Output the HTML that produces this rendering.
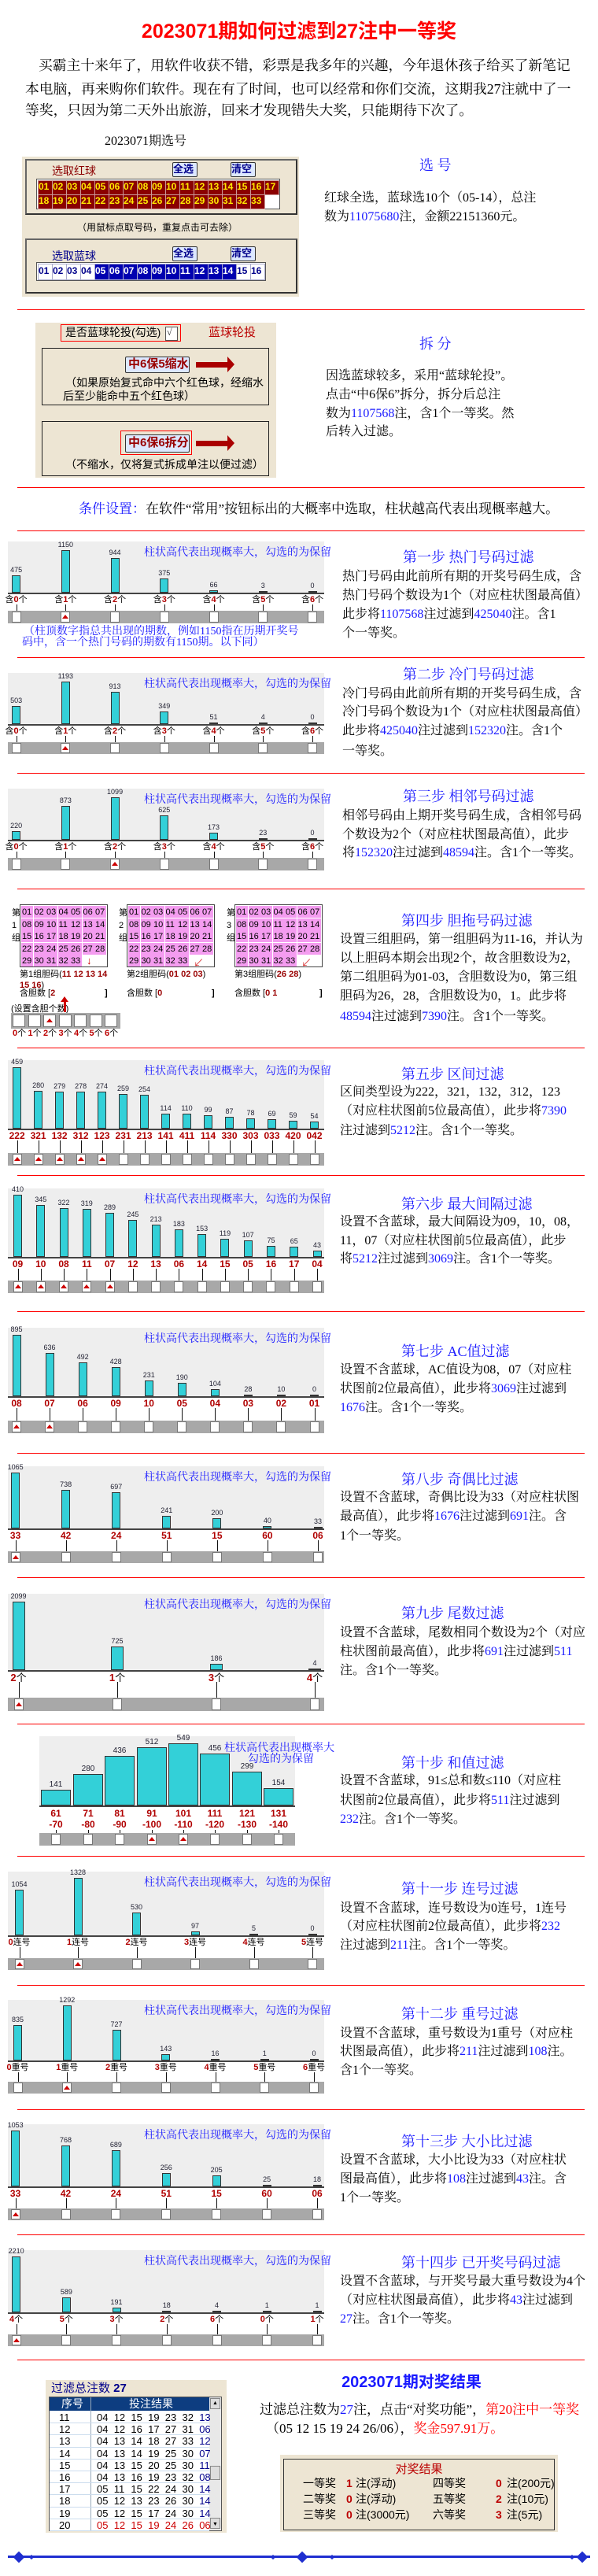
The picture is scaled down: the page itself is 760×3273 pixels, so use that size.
<!DOCTYPE html>
<html><head><meta charset="utf-8">
<style>
html,body{margin:0;padding:0;background:#fff}
body{width:760px;height:3273px;position:relative;overflow:hidden;font-family:"Liberation Serif","Noto Serif CJK SC",serif;color:#000}
.a{position:absolute;white-space:nowrap}
.b{color:#1a1aff}
.r{color:#ff0000}
.hr{position:absolute;left:22px;width:721px;height:1px;background:#ff0000}
.t{position:absolute;white-space:nowrap;font-size:16px;line-height:20px}
.st{position:absolute;white-space:nowrap;font-size:18px;line-height:22px;color:#1a1aff}
.sans{font-family:"Liberation Sans","Noto Sans CJK SC",sans-serif}
</style></head><body>
<div class="a sans" style="left:0;width:760px;text-align:center;top:24px;font-size:25px;line-height:32px;font-weight:bold;color:#ff0000">2023071期如何过滤到27注中一等奖</div>
<div class="a" style="left:49px;top:71px;font-size:17.8px;line-height:24px">买霸主十来年了，用软件收获不错，彩票是我多年的兴趣，今年退休孩子给买了新笔记</div>
<div class="a" style="left:32px;top:101px;font-size:17.8px;line-height:24px">本电脑，再来购你们软件。现在有了时间，也可以经常和你们交流，这期我27注就中了一</div>
<div class="a" style="left:32px;top:128px;font-size:17.8px;line-height:24px">等奖，只因为第二天外出旅游，回来才发现错失大奖，只能期待下次了。</div>
<div class="a" style="left:133px;top:170px;font-size:16px;line-height:20px">2023071期选号</div>
<div id="root"></div>
<script>
var H='';
function A(s){H+=s;}
function box(x,y,w,h,st){A('<div class="a" style="left:'+x+'px;top:'+y+'px;width:'+w+'px;height:'+h+'px;'+(st||'')+'"></div>');}
function txt(x,y,s,st){A('<div class="a" style="left:'+x+'px;top:'+y+'px;'+(st||'')+'">'+s+'</div>');}
function hr(y){A('<div class="hr" style="top:'+y+'px"></div>');}
function blue(s){return s.replace(/<(.*?)>/g,'<span class="b">$1</span>');}
function lines(x,ys,arr){for(var i=0;i<arr.length;i++)A('<div class="t" style="left:'+x+'px;top:'+(ys[i]-10)+'px">'+blue(arr[i])+'</div>');}
function title(x,y,s){A('<div class="st" style="left:'+x+'px;top:'+(y-11)+'px">'+s+'</div>');}
var SF='font-family:\'Liberation Sans\',\'Noto Sans CJK SC\',sans-serif;';
/* red ball panel */
box(28,199,352,178,'background:#ede5d3');
box(32,202,346,71,'border:2px solid #666;box-sizing:border-box;border-right-color:#333;border-bottom-color:#333');
txt(66,207,'选取红球','font-size:14px;color:#8b0000;'+SF);
function btn(x,y,s){box(x,y,30,17,'background:#dde8ff;border:1px solid #333;border-radius:2px');txt(x+1,y+1,s,'font-size:13px;line-height:15px;font-weight:bold;color:#00008b;'+SF);}
btn(219,206,'全选');btn(293,206,'清空');
box(46,227,310,39,'background:#fff;border:1px solid #555;box-sizing:border-box');
for(var i=1;i<=33;i++){var r=i<=17?0:1,c=i<=17?i-1:i-18;var x=48+c*18,y=229+r*18;
 box(x,y,17,17,'background:#8b0000;border:1px solid #c99');
 txt(x+1,y+1,(i<10?'0':'')+i,'font-size:12px;line-height:15px;font-weight:bold;color:#ffea00;'+SF);}
txt(98,280,'（用鼠标点取号码，重复点击可去除）','font-size:12px;'+SF);
box(32,303,346,70,'border:2px solid #666;box-sizing:border-box;border-right-color:#333;border-bottom-color:#333');
txt(66,315,'选取蓝球','font-size:14px;color:#00008b;'+SF);
btn(219,313,'全选');btn(293,313,'清空');
box(46,333,292,24,'background:#fff;border:1px solid #555;box-sizing:border-box');
for(var i=1;i<=16;i++){var x=48+(i-1)*18,y=335,sel=i>=5&&i<=14;
 box(x,y,17,19,'background:'+(sel?'#0000b0':'#fff')+';border:1px solid #aac');
 txt(x+1,y+2,(i<10?'0':'')+i,'font-size:12px;line-height:15px;font-weight:bold;color:'+(sel?'#fff':'#00008b')+';'+SF);}
title(533,210,'选&nbsp;号');
lines(412,[252,276],['红球全选，蓝球选10个（05-14），总注','数为<11075680>注，金额22151360元。']);
hr(393);
/* split panel */
box(45,410,306,197,'background:#ede5d3');
box(77,412,153,22,'border:1px solid #f00;box-sizing:border-box');
txt(83,414,'是否蓝球轮投(勾选)','font-size:14px;line-height:17px;'+SF);
box(210,415,14,16,'background:#fff;border:1px solid #555;font-size:11px');
txt(212,415,'√','font-size:12px;color:#333');
txt(265,414,'蓝球轮投','font-size:15px;line-height:17px;color:#b00;'+SF);
box(53,442,289,73,'border:1px solid #222;box-sizing:border-box');
box(159,453,80,19,'background:#dde8ff;border:1px solid #333;border-radius:2px');
txt(163,454,'中6保5缩水','font-size:15px;line-height:17px;font-weight:bold;color:#900;'+SF);
function arrow(x,y){box(x,y-3,40,7,'background:#a00');A('<div class="a" style="left:'+(x+40)+'px;top:'+(y-10)+'px;width:0;height:0;border-left:9px solid #a00;border-top:10px solid transparent;border-bottom:10px solid transparent"></div>');}
arrow(249,463);
txt(83,477,'（如果原始复式命中六个红色球，经缩水','font-size:14px;line-height:18px;'+SF);
txt(80,494,'后至少能命中五个红色球）','font-size:14px;line-height:18px;'+SF);
box(53,535,289,70,'border:1px solid #222;box-sizing:border-box');
box(153,547,91,31,'border:1px solid #f00;box-sizing:border-box');
box(159,552,80,21,'background:#dde8ff;border:1px solid #333;border-radius:2px');
txt(163,554,'中6保6拆分','font-size:15px;line-height:17px;font-weight:bold;color:#900;'+SF);
arrow(249,563);
txt(83,581,'（不缩水，仅将复式拆成单注以便过滤）','font-size:14px;line-height:18px;'+SF);
title(533,437,'拆&nbsp;分');
lines(414,[478,502,526,549],['因选蓝球较多，采用“蓝球轮投”。','点击“中6保6”拆分，拆分后总注','数为<1107568>注，含1个一等奖。然','后转入过滤。']);
hr(619);
A('<div class="a" style="left:100px;top:637px;font-size:17px;line-height:20px"><span class="b">条件设置：</span>在软件“常用”按钮标出的大概率中选取，柱状越高代表出现概率越大。</div>');
hr(674);
/* chart */
function chart(o){
 var x0=o.x0||10,x1=o.x1||412,w=x1-x0;
 box(x0,o.top,w,o.base-o.top,'background:#eeeeee');
 box(x0,o.base-1,w,2,'background:#444');
 var mx=Math.max.apply(null,o.v),bw=o.bw||11;
 for(var i=0;i<o.v.length;i++){var xc=o.xs[i],h=Math.round(o.v[i]/mx*o.mh);
  if(h<2)h=2;
  box(xc-bw/2,o.base-1-h,bw,h,'background:#33d0d8;border:1px solid #333;box-sizing:border-box');
  A('<div class="a" style="left:'+(xc-20)+'px;width:40px;text-align:center;top:'+(o.base-h-13)+'px;font-size:'+(o.vf||9)+'px;line-height:11px;color:#223;'+SF+'">'+o.v[i]+'</div>');
  var lb=o.l[i];
  if(o.allred) lb='<b style="color:#b00000">'+lb+'</b>'; else lb=lb.replace(/(\d+)/g,'<b style="color:#b00000">$1</b>');
  A('<div class="a" style="left:'+(xc-30)+'px;width:60px;text-align:center;top:'+(o.base+2)+'px;font-size:'+(o.lf||11)+'px;line-height:'+(o.lh||13)+'px;'+SF+'white-space:pre">'+lb+'</div>');
  box(xc,o.base+(o.stem||14),1,o.s0-o.base-(o.stem||14)+2,'background:#111');
 }
 box(x0,o.s0,w,o.s1-o.s0,'background:#a8a8a8');
 for(var i=0;i<o.v.length;i++){var xc=o.xs[i];
  box(xc-6,o.s0+1,12,o.s1-o.s0-2,'background:#fff;border:1px solid #777;box-sizing:border-box');
  if(o.sel.indexOf(i)>=0)A('<div class="a" style="left:'+(xc-4)+'px;top:'+(o.s0+(o.s1-o.s0)/2-3)+'px;width:0;height:0;border-bottom:5px solid #c00;border-left:4px solid transparent;border-right:4px solid transparent"></div>');
 }
 if(!o.noleg)txt(183,o.top+7,'柱状高代表出现概率大，勾选的为保留','font-size:14px;line-height:16px;color:#1a1aff;');
}
function sp(a,b,n){var r=[];for(var i=0;i<n;i++)r.push(a+(b-a)*i/(n-1));return r;}
var L7=['含0个','含1个','含2个','含3个','含4个','含5个','含6个'];
chart({top:688,base:754,s0:776,s1:792,xs:sp(20.6,397,7),v:[475,1150,944,375,66,3,0],mh:54,l:L7,sel:[1]});
A('<div class="a b" style="left:30px;top:796px;font-size:14px;line-height:14px">（柱顶数字指总共出现的期数，例如1150指在历期开奖号</div>');
A('<div class="a b" style="left:28px;top:810px;font-size:14px;line-height:14px">码中，含一个热门号码的期数有1150期。以下同）</div>');
title(512,708,'第一步 热门号码过滤');
lines(435,[733,757,781,805],['热门号码由此前所有期的开奖号码生成，含','热门号码个数设为1个（对应柱状图最高值）','此步将<1107568>注过滤到<425040>注。含1','个一等奖。']);
hr(835);
chart({top:855,base:921,s0:943,s1:958,xs:sp(20.6,397,7),v:[503,1193,913,349,51,4,0],mh:54,l:L7,sel:[1]});
title(512,857,'第二步 冷门号码过滤');
lines(435,[882,905,929,955],['冷门号码由此前所有期的开奖号码生成，含','冷门号码个数设为1个（对应柱状图最高值）','此步将<425040>注过滤到<152320>注。含1个','一等奖。']);
hr(982);
chart({top:1002,base:1068,s0:1090,s1:1106,xs:sp(20.6,397,7),v:[220,873,1099,625,173,23,0],mh:54,l:L7,sel:[2]});
title(512,1012,'第三步 相邻号码过滤');
lines(435,[1037,1061,1084],['相邻号码由上期开奖号码生成，含相邻号码','个数设为2个（对应柱状图最高值），此步','将<152320>注过滤到<48594>注。含1个一等奖。']);
hr(1129);
/* step 4 grids */
var gx=[25,161,298],gl=['第1组胆码(<b style="color:#900">11 12 13 14</b>','第2组胆码(<b style="color:#900">01 02 03</b>)','第3组胆码(<b style="color:#900">26 28</b>)'],gc=['2','0','0 1'],ga=['↓','↙','↙'];
for(var g=0;g<3;g++){var x0=gx[g];
 txt(x0-10,1152,'第<br>'+(g+1)+'<br>组','font-size:11px;line-height:16px;'+SF);
 box(x0,1149,112,80,'background:#fff;border:1px solid #444;box-sizing:border-box');
 for(var n=1;n<=33;n++){var r=Math.floor((n-1)/7),c=(n-1)%7;var x=x0+2+c*15.5,y=1151+r*15.5;
  box(x,y,15,15,'background:#f49cf0');
  txt(x+1,y+1,(n<10?'0':'')+n,'font-size:11px;line-height:14px;'+SF);}
 txt(x0+85,1213,ga[g],'font-size:13px;color:#c00;font-weight:bold');
 txt(x0,1231,gl[g],'font-size:11px;line-height:14px;'+SF);
 txt(x0,1255,'含胆数 [<b style="color:#900">'+gc[g]+'</b>','font-size:11px;line-height:14px;'+SF);
 txt(x0+108,1255,']','font-size:11px;line-height:14px;font-weight:bold;'+SF);
}
txt(25,1245,'<b style="color:#900">15 16</b>)','font-size:11px;line-height:14px;'+SF);
txt(14,1276,'(设置含胆个数)','font-size:11px;line-height:12px;'+SF);
box(81,1272,3,14,'background:#c00');
A('<div class="a" style="left:77px;top:1266px;width:0;height:0;border-bottom:7px solid #c00;border-left:5px solid transparent;border-right:5px solid transparent"></div>');
box(14,1287,139,20,'background:#a8a8a8');
for(var i=0;i<7;i++){var x=16+i*19.5;box(x,1289,16,16,'background:#fff;border:1px solid #777;box-sizing:border-box');
 if(i==2)A('<div class="a" style="left:'+(x+4)+'px;top:1294px;width:0;height:0;border-bottom:5px solid #c00;border-left:4px solid transparent;border-right:4px solid transparent"></div>');
 txt(x,1307,'<b style="color:#b00">'+i+'</b>个','font-size:11px;line-height:12px;'+SF);}
title(510,1170,'第四步 胆拖号码过滤');
lines(432,[1194,1218,1242,1266,1292],['设置三组胆码，第一组胆码为11-16，并认为','以上胆码本期会出现2个，故含胆数设为2，','第二组胆码为01-03，含胆数设为0，第三组','胆码为26，28，含胆数设为0，1。此步将','<48594>注过滤到<7390>注。含1个一等奖。']);
hr(1331);
chart({top:1347,base:1435,s0:1465,s1:1481,xs:sp(21.6,399.5,15),v:[459,280,279,278,274,259,254,114,110,99,87,78,69,59,54],mh:78,l:['222','321','132','312','123','231','213','141','411','114','330','303','033','420','042'],allred:1,lf:12,sel:[0,1,2,3,4]});
title(510,1365,'第五步 区间过滤');
lines(432,[1388,1412,1437],['区间类型设为222，321，132，312，123','（对应柱状图前5位最高值），此步将<7390>','注过滤到<5212>注。含1个一等奖。']);
hr(1493);
chart({top:1510,base:1598,s0:1627,s1:1643,xs:sp(22.5,403,14),v:[410,345,322,319,289,245,213,183,153,119,107,75,65,43],mh:79,l:['09','10','08','11','07','12','13','06','14','15','05','16','17','04'],allred:1,lf:12,sel:[0,1,2,3,4]});
title(510,1530,'第六步 最大间隔过滤');
lines(432,[1553,1577,1600],['设置不含蓝球，最大间隔设为09，10，08，','11，07（对应柱状图前5位最高值），此步','将<5212>注过滤到<3069>注。含1个一等奖。']);
hr(1666);
chart({top:1687,base:1775,s0:1805,s1:1821,xs:sp(21,399.5,10),v:[895,636,492,428,231,190,104,28,10,0],mh:78,l:['08','07','06','09','10','05','04','03','02','01'],allred:1,lf:12,sel:[0,1]});
title(510,1717,'第七步 AC值过滤');
lines(432,[1741,1765,1789],['设置不含蓝球，AC值设为08，07（对应柱','状图前2位最高值），此步将<3069>注过滤到','<1676>注。含1个一等奖。']);
hr(1846);
chart({top:1863,base:1943,s0:1971,s1:1986,xs:sp(19.6,404,7),v:[1065,738,697,241,200,40,33],mh:71,l:['33','42','24','51','15','60','06'],allred:1,lf:12,sel:[0]});
title(510,1880,'第八步 奇偶比过滤');
lines(432,[1903,1927,1952],['设置不含蓝球，奇偶比设为33（对应柱状图','最高值），此步将<1676>注过滤到<691>注。含','1个一等奖。']);
hr(2004);
chart({top:2025,base:2123,s0:2157,s1:2174,xs:[23.5,149,275,400],bw:16,v:[2099,725,186,4],mh:87,l:['2个','1个','3个','4个'],lf:13,sel:[0]});
title(510,2050,'第九步 尾数过滤');
lines(432,[2075,2099,2123],['设置不含蓝球，尾数相同个数设为2个（对应','柱状图前最高值），此步将<691>注过滤到<511>','注。含1个一等奖。']);
hr(2190);
chart({x0:50,x1:375,top:2206,base:2295,s0:2329,s1:2345,xs:[71,112,152,193,233,273,314,354],bw:38,vf:10,v:[141,280,436,512,549,456,299,154],mh:79,l:['61\n-70','71\n-80','81\n-90','91\n-100','101\n-110','111\n-120','121\n-130','131\n-140'],allred:1,lf:12,lh:14,stem:30,noleg:1,sel:[3,4]});
txt(285,2214,'柱状高代表出现概率大','font-size:14px;line-height:15px;color:#1a1aff');
txt(315,2228,'勾选的为保留','font-size:14px;line-height:15px;color:#1a1aff');
title(510,2240,'第十步 和值过滤');
lines(432,[2263,2288,2312],['设置不含蓝球，91≤总和数≤110（对应柱','状图前2位最高值），此步将<511>注过滤到','<232>注。含1个一等奖。']);
hr(2358);
chart({top:2378,base:2460,s0:2488,s1:2503,xs:sp(24.5,397,6),v:[1054,1328,530,97,5,0],mh:73,l:['0连号','1连号','2连号','3连号','4连号','5连号'],sel:[0,1]});
title(510,2400,'第十一步 连号过滤');
lines(432,[2425,2448,2472],['设置不含蓝球，连号数设为0连号，1连号','（对应柱状图前2位最高值），此步将<232>','注过滤到<211>注。含1个一等奖。']);
hr(2522);
chart({top:2541,base:2619,s0:2645,s1:2660,xs:sp(22.5,399,7),v:[835,1292,727,143,16,1,0],mh:70,l:['0重号','1重号','2重号','3重号','4重号','5重号','6重号'],sel:[1]});
title(510,2559,'第十二步 重号过滤');
lines(432,[2584,2607,2631],['设置不含蓝球，重号数设为1重号（对应柱','状图最高值），此步将<211>注过滤到<108>注。','含1个一等奖。']);
hr(2680);
chart({top:2699,base:2779,s0:2806,s1:2821,xs:sp(19.6,403,7),v:[1053,768,689,256,205,25,18],mh:71,l:['33','42','24','51','15','60','06'],allred:1,lf:12,sel:[0]});
title(510,2721,'第十三步 大小比过滤');
lines(432,[2745,2769,2793],['设置不含蓝球，大小比设为33（对应柱状','图最高值），此步将<108>注过滤到<43>注。含','1个一等奖。']);
hr(2839);
chart({top:2859,base:2939,s0:2966,s1:2981,xs:sp(20.6,403,7),v:[2210,589,191,18,4,1,1],mh:71,l:['4个','5个','3个','2个','6个','0个','1个'],sel:[0]});
title(510,2875,'第十四步 已开奖号码过滤');
lines(432,[2899,2923,2947],['设置不含蓝球，与开奖号最大重号数设为4个','（对应柱状图最高值），此步将<43>注过滤到','<27>注。含1个一等奖。']);
hr(2998);
/* result table */
box(58,3024,230,194,'background:#ede5d3');
txt(65,3026,'过滤总注数 <b>27</b>','font-size:15px;line-height:18px;color:#00008b;'+SF);
box(62,3045,220,171,'background:#fff;border:1px solid #555;box-sizing:border-box');
box(63,3046,203,17,'background:#0d3d80');
box(115,3046,1,170,'background:#9ab');
txt(78,3046,'序号','font-size:14px;line-height:17px;color:#fff;'+SF);
txt(164,3046,'投注结果','font-size:14px;line-height:17px;color:#fff;'+SF);
box(266,3046,15,169,'background:#e8e8e8');
box(267,3047,13,14,'background:#ddd;border:1px solid #888;box-sizing:border-box');
box(267,3199,13,14,'background:#ddd;border:1px solid #888;box-sizing:border-box');
box(267,3133,13,18,'background:#ddd;border:1px solid #888;box-sizing:border-box');
txt(270,3049,'▲','font-size:7px');txt(270,3203,'▼','font-size:7px');
var rows=[['11','04 12 15 19 23 32 13'],['12','04 12 16 17 27 31 06'],['13','04 13 14 18 27 33 12'],['14','04 13 14 19 25 30 07'],['15','04 13 15 20 25 30 11'],['16','04 13 16 19 23 32 08'],['17','05 11 15 22 24 30 14'],['18','05 12 13 23 26 30 14'],['19','05 12 15 17 24 30 14'],['20','05 12 15 19 24 26 06']];
for(var i=0;i<10;i++){var y=3064+i*15.2,red=i==9;
 box(63,y+14.2,203,1,'background:#cde');
 txt(75,y,rows[i][0],'font-size:13px;line-height:15px;'+SF);
 var ns=rows[i][1].split(' ');
 for(var k=0;k<7;k++)txt(123+k*21.7,y,ns[k],'font-size:13px;line-height:15px;'+SF+'color:'+(red?'#c00':(k==6?'#00008b':'#000')));}
A('<div class="a" style="left:300px;width:446px;text-align:center;top:3015px;font-size:20px;line-height:24px;font-weight:bold;color:#1a1aff;'+SF+'">2023071期对奖结果</div>');
A('<div class="t" style="left:330px;top:3052px;font-size:17px">过滤总注数为<span class="b">27</span>注，点击“对奖功能”，<span class="r">第20注中一等奖</span></div>');
A('<div class="t" style="left:338px;top:3076px;font-size:17px">（05 12 15 19 24 26/06），<span class="r">奖金597.91万。</span></div>');
box(356,3119,353,98,'background:#ede5d3');
box(360,3124,345,91,'border:1px solid #333;box-sizing:border-box');
A('<div class="a" style="left:360px;width:345px;text-align:center;top:3129px;font-size:15px;line-height:17px;color:#b00;'+SF+'">对奖结果</div>');
var pr=[['一等奖','1','注(浮动)','四等奖','0','注(200元)'],['二等奖','0','注(浮动)','五等奖','2','注(10元)'],['三等奖','0','注(3000元)','六等奖','3','注(5元)']];
for(var i=0;i<3;i++){var y=3147+i*20,p=pr[i],f='font-size:14px;line-height:17px;'+SF;
 txt(385,y,p[0],f);txt(440,y,'<b style="color:#b00">'+p[1]+'</b>',f);txt(452,y,p[2],f);
 txt(550,y,p[3],f);txt(630,y,'<b style="color:#b00">'+p[4]+'</b>',f);txt(644,y,p[5],f);}
/* decorative line */
box(10,3247,740,3,'background:#1f2fd0');
function dia(x,s){A('<div class="a" style="left:'+(x-s)+'px;top:'+(3248.5-s)+'px;width:'+(2*s)+'px;height:'+(2*s)+'px;background:#1f2fd0;transform:rotate(45deg) scale(0.75,0.75)"></div>');}
dia(24,7);dia(740,7);dia(384,7);dia(347,3);dia(422,3);dia(40,3);dia(727,3);
document.getElementById('root').innerHTML=H;
</script>
</body></html>
